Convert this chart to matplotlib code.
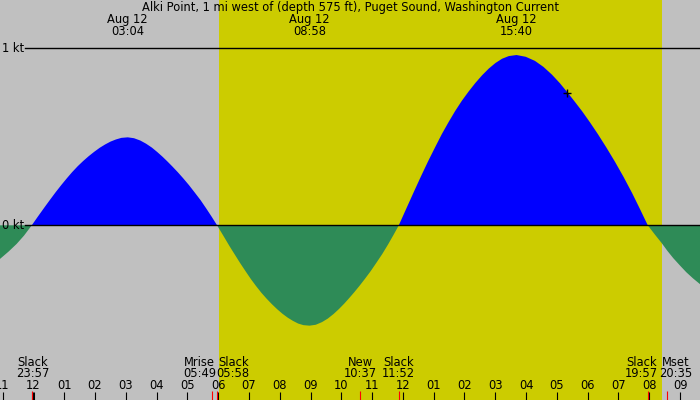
import matplotlib
matplotlib.use("Agg")
import matplotlib.pyplot as plt
import numpy as np

###################################################################################################
# Alki Point current, Aug 11-12 (hours counted from midnight Aug 12, speeds in knots)

times = [-1.081, -0.8, -0.54, -0.3, -0.05,
         # flood 1
         0.168, 0.374, 0.542, 0.726, 0.916, 1.091, 1.259, 1.443, 1.618, 1.795, 1.976, 2.157,
         2.335, 2.509, 2.684, 2.861, 3.067,
         3.270, 3.473, 3.662, 3.850, 4.024, 4.198, 4.358, 4.517, 4.691, 4.865, 5.054, 5.242,
         5.431, 5.619, 5.793, 5.967,
         # ebb
         6.177, 6.375, 6.537, 6.714, 6.897, 7.065, 7.227, 7.404, 7.572, 7.743, 7.917, 8.091,
         8.262, 8.430, 8.598, 8.769, 8.967,
         9.170, 9.373, 9.562, 9.750, 9.924, 10.098, 10.258, 10.417, 10.591, 10.765, 10.954,
         11.142, 11.331, 11.519, 11.693, 11.867,
         # flood 2
         12.135, 12.387, 12.593, 12.819, 13.052, 13.266, 13.473, 13.698, 13.912, 14.130, 14.352,
         14.574, 14.792, 15.006, 15.220, 15.438, 15.690,
         15.988, 16.286, 16.563, 16.840, 17.096, 17.351, 17.586, 17.820, 18.076, 18.331, 18.608,
         18.885, 19.162, 19.439, 19.694, 19.950,
         # ebb
         20.18, 20.40, 20.59, 20.78, 21.0, 21.2, 21.42, 21.65]
speeds = [-0.19, -0.148, -0.105, -0.058, 0,
          0.054, 0.104, 0.144, 0.187, 0.229, 0.266, 0.30, 0.334, 0.363, 0.39, 0.415, 0.438,
          0.457, 0.473, 0.485, 0.494, 0.497,
          0.492, 0.479, 0.461, 0.439, 0.414, 0.387, 0.36, 0.332, 0.30, 0.266, 0.227, 0.185,
          0.142, 0.094, 0.048, 0,
          -0.061, -0.119, -0.164, -0.213, -0.261, -0.304, -0.342, -0.381, -0.414, -0.445, -0.474, -0.50,
          -0.522, -0.540, -0.555, -0.564, -0.567,
          -0.562, -0.547, -0.527, -0.501, -0.473, -0.442, -0.411, -0.379, -0.342, -0.303, -0.259,
          -0.211, -0.162, -0.108, -0.055, 0,
          0.104, 0.201, 0.279, 0.362, 0.443, 0.516, 0.58, 0.646, 0.703, 0.755, 0.804,
          0.848, 0.886, 0.917, 0.941, 0.956, 0.962,
          0.952, 0.929, 0.895, 0.851, 0.803, 0.749, 0.697, 0.644, 0.581, 0.515, 0.439,
          0.359, 0.274, 0.183, 0.093, 0,
          -0.052, -0.10, -0.145, -0.186, -0.228, -0.265, -0.30, -0.333]

title = "Alki Point, 1 mi west of (depth 575 ft), Puget Sound, Washington Current"

# max/min current events shown at the top
top_times = [3.067, 8.967, 15.667]
top_labels = ["Aug 12\n03:04", "Aug 12\n08:58", "Aug 12\n15:40"]

# slack / moon events shown at the bottom
bot_times = [-0.05, 5.817, 5.967, 10.617, 11.867, 19.95, 20.583]
bot_labels = ["Slack\n23:57", "Mrise\n05:49", "Slack\n05:58", "New\n10:37",
              "Slack\n11:52", "Slack\n19:57", "Mset\n20:35"]

hour_ticks = list(range(-1, 22))
hour_labels = ["11", "12", "01", "02", "03", "04", "05", "06", "07", "08", "09", "10", "11",
               "12", "01", "02", "03", "04", "05", "06", "07", "08", "09"]

sunrise = 6.02
sunset = 20.40
now_time = 17.34
now_speed = 0.75

#####################################################################################################

W, H = 700, 400
px_hour = 30.8       # pixels per hour
x_mid = 33.3         # pixel of midnight
y_zero = 225.3       # pixel of 0 kt
px_kt = 177.0        # pixels per knot

t_left = -x_mid / px_hour
t_right = (W - x_mid) / px_hour
v_top = y_zero / px_kt
v_bot = (y_zero - H) / px_kt

gray = "#c0c0c0"
yellow = "#cccc00"
blue = "#0000ff"
green = "#2e8b57"
fs = 8.3
font = "DejaVu Sans"

fig = plt.figure(figsize=(W / 100, H / 100), dpi=100, facecolor=gray)
ax = fig.add_axes([0, 0, 1, 1])
ax.set_facecolor(gray)
ax.set_xlim(t_left, t_right)
ax.set_ylim(v_bot, v_top)
ax.axis("off")

ax.axvspan(sunrise, sunset, color=yellow, lw=0, zorder=1)

t = np.array(times)
s = np.array(speeds)
ax.fill_between(t, s, 0, where=s >= 0, interpolate=True, color=blue, lw=0, zorder=2)
ax.fill_between(t, s, 0, where=s <= 0, interpolate=True, color=green, lw=0, zorder=2)

# 0 kt and 1 kt lines
yt = ax.get_yaxis_transform()
for v, lab in [(0, "0 kt"), (1, "1 kt")]:
    ax.plot([25 / W, 1], [v, v], color="black", lw=1, transform=yt, zorder=3)
    ax.text(2 / W, v, lab, ha="left", va="center", fontsize=fs, family=font, transform=yt, zorder=4)

# current time marker
ax.plot([now_time], [now_speed], marker="+", color="black", ms=6, mew=1, zorder=4)

xt = ax.get_xaxis_transform()
ax.text(0.5, 1 - 7.5 / H, title, ha="center", va="center", fontsize=fs,
        family=font, transform=ax.transAxes, zorder=4)
for tt, lab in zip(top_times, top_labels):
    a, b = lab.split("\n")
    ax.text(tt, 1 - 19.5 / H, a, ha="center", va="center", fontsize=fs, family=font, transform=xt, zorder=4)
    ax.text(tt, 1 - 31.5 / H, b, ha="center", va="center", fontsize=fs, family=font, transform=xt, zorder=4)

# bottom labels, nudged sideways (pixels) where they would collide
bot_shift = [1, -13, 16, 0, 0, -6, 8]
for tt, lab, dx in zip(bot_times, bot_labels, bot_shift):
    a, b = lab.split("\n")
    xx = tt + dx / px_hour
    ax.text(xx, 1 - 362 / H, a, ha="center", va="center", fontsize=fs, family=font, transform=xt, zorder=4)
    ax.text(xx, 1 - 373.5 / H, b, ha="center", va="center", fontsize=fs, family=font, transform=xt, zorder=4)

# hour ticks
for h, lab in zip(hour_ticks, hour_labels):
    lw = 2.2 if h == 0 else 0.8
    ax.plot([h, h], [0, 8 / H], color="black", lw=lw, transform=xt, zorder=5, solid_capstyle="butt")
    ax.text(h, 1 - 385.5 / H, lab, ha="center", va="center", fontsize=fs, family=font, transform=xt, zorder=4)

for tt in bot_times:
    ax.plot([tt, tt], [0, 9 / H], color="red", lw=0.8, transform=xt, zorder=6, solid_capstyle="butt")

fig.savefig("out.png", dpi=100, facecolor=gray)
